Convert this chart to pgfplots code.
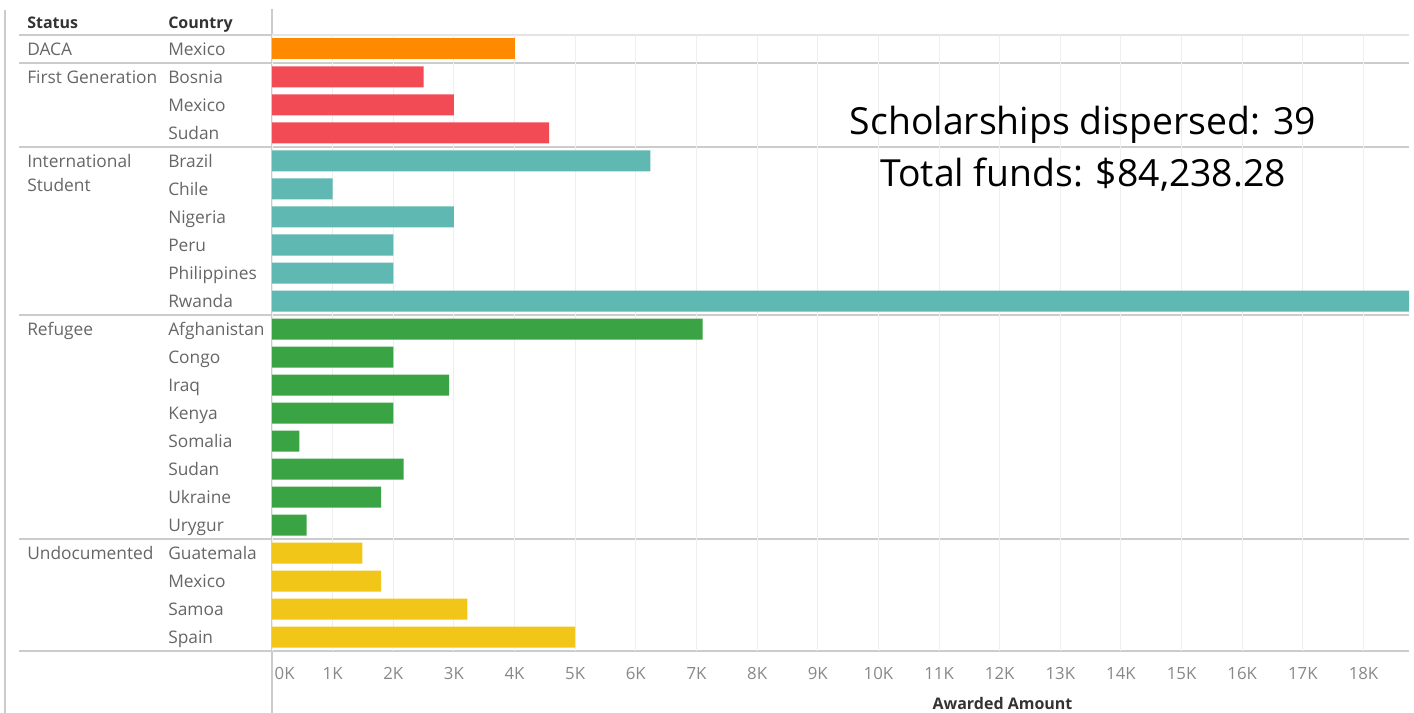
\documentclass[border=0pt]{standalone}
\usepackage{pgfplots}
\pgfplotsset{compat=1.18}
\usepackage{fontspec}
\setmainfont{Open Sans}
\definecolor{cDACA}{HTML}{FF8A00}
\definecolor{cFirst}{HTML}{F24B55}
\definecolor{cIntl}{HTML}{5FB8B1}
\definecolor{cRef}{HTML}{3AA344}
\definecolor{cUndoc}{HTML}{F2C619}
\definecolor{gridc}{HTML}{EEEEEE}
\definecolor{linec}{HTML}{CCCCCC}
\definecolor{labc}{HTML}{666666}
\definecolor{tickc}{HTML}{888888}
\definecolor{headc}{HTML}{333333}
\begin{document}
\begin{tikzpicture}[x=0.75pt,y=0.75pt]
\path[use as bounding box] (0,0) rectangle (1414,713);
% frame lines
\draw[linec, line width=1.2pt] (5,0) -- (5,703);
\draw[linec, line width=1pt] (272,0) -- (272,704);
\draw[linec, line width=1.2pt] (19,678) -- (272,678);
\draw[gridc!70!linec, line width=1pt] (272,678) -- (1409,678);
\foreach \yy in {650,566,398,174,62} {
  \draw[linec, line width=1.2pt] (19,\yy) -- (1409,\yy);
}
\begin{axis}[
  at={(204pt,46.5pt)}, anchor=south west,
  scale only axis, width=852.75pt, height=462pt,
  xmin=0, xmax=18.75, ymin=-0.5, ymax=21.5, y dir=reverse,
  axis line style={draw=none},
  xmajorgrids, grid style={gridc, line width=0.75pt},
  major tick length=0pt,
  xtick={0,...,18},
  xticklabels={\makebox[0pt][l]{\hspace{2pt}0K},1K,2K,3K,4K,5K,6K,7K,8K,9K,10K,11K,12K,13K,14K,15K,16K,17K,18K},
  xticklabel style={anchor=base, yshift=-21.2pt, font=\fontsize{12.6}{14}\selectfont, text=tickc},
  ytick={0,...,21},
  yticklabels={Mexico,Bosnia,Mexico,Sudan,Brazil,Chile,Nigeria,Peru,Philippines,Rwanda,Afghanistan,Congo,Iraq,Kenya,Somalia,Sudan,Ukraine,Urygur,Guatemala,Mexico,Samoa,Spain},
  yticklabel style={anchor=west, xshift=-78pt, text height=9.2pt, text depth=0pt, inner sep=0pt, font=\fontsize{13}{15}\selectfont, text=labc},
]
\addplot[xbar, bar width=15.75pt, bar shift=0pt, fill=cDACA, draw=none] coordinates {(4.0,0)};
\addplot[xbar, bar width=15.75pt, bar shift=0pt, fill=cFirst, draw=none] coordinates {(2.5,1) (3.0,2) (4.57,3)};
\addplot[xbar, bar width=15.75pt, bar shift=0pt, fill=cIntl, draw=none] coordinates {(6.24,4) (1.0,5) (3.0,6) (2.0,7) (2.0,8) (25.42,9)};
\addplot[xbar, bar width=15.75pt, bar shift=0pt, fill=cRef, draw=none] coordinates {(7.10,10) (2.0,11) (2.92,12) (2.0,13) (0.45,14) (2.17,15) (1.80,16) (0.57,17)};
\addplot[xbar, bar width=15.75pt, bar shift=0pt, fill=cUndoc, draw=none] coordinates {(1.49,18) (1.80,19) (3.22,20) (5.0,21)};
\end{axis}
% headers
\tikzset{lab/.style={anchor=west, inner sep=0pt, text height=9.2pt, text depth=0pt, font=\fontsize{13}{15}\selectfont, text=labc}}
\node[lab, text height=8.6pt, font=\fontsize{12}{14}\selectfont\bfseries, text=headc] at (27,690) {Status};
\node[lab, text height=8.6pt, font=\fontsize{12}{14}\selectfont\bfseries, text=headc] at (168,690) {Country};
\node[lab] at (27,664) {DACA};
\node[lab] at (27,636) {First Generation};
\node[lab] at (27,552) {International};
\node[lab] at (27,528) {Student};
\node[lab] at (27,384) {Refugee};
\node[lab] at (27,160) {Undocumented};
% annotation
\node[anchor=base, inner sep=0pt, font=\fontsize{28}{32}\selectfont] at (1083,578) {Scholarships dispersed: 39};
\node[anchor=base, inner sep=0pt, font=\fontsize{28}{32}\selectfont] at (1083,526) {Total funds: \$84,238.28};
% axis title
\node[anchor=base, inner sep=0pt, font=\fontsize{12}{14}\selectfont\bfseries, text=headc] at (1002.5,3) {Awarded Amount};
\end{tikzpicture}
\end{document}
